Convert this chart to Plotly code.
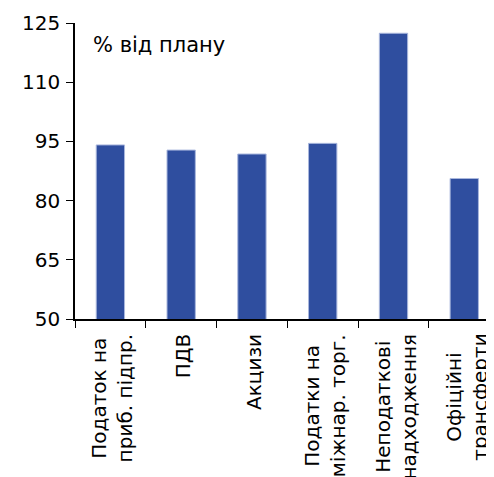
import plotly.graph_objects as go

categories = ["Податок на<br>приб. підпр.", "ПДВ", "Акцизи", "Податки на<br>міжнар. торг.",
              "Неподаткові<br>надходження", "Офіційні<br>трансферти"]
values = [94.1, 92.8, 91.8, 94.5, 122.4, 85.6]
y_ticks = [50, 65, 80, 95, 110, 125]

fig = go.Figure(go.Bar(
    x=list(range(len(categories))), y=values,
    marker=dict(color="#2F4E9F", line=dict(color="#A9B7DD", width=1)),
    width=0.4,
))

annotations = [dict(text="% від плану", xref="x", yref="y", x=-0.28, y=119.4,
                    xanchor="left", showarrow=False, font=dict(size=21))]
for i, c in enumerate(categories):
    annotations.append(dict(
        text=c, xref="x", yref="paper", x=i, y=0, yshift=-13, xshift=2,
        xanchor="center", yanchor="top", textangle=-90, align="center",
        showarrow=False, font=dict(size=20),
    ))

fig.update_layout(
    width=486, height=469,
    margin=dict(l=67, r=0, t=15, b=158),
    paper_bgcolor="white", plot_bgcolor="white",
    font=dict(family="DejaVu Sans", size=20, color="black"),
    showlegend=False,
    xaxis=dict(
        range=[-0.5, 5.42],
        automargin=False,
        tickmode="array",
        tickvals=list(range(len(categories))),
        showticklabels=False,
        showline=True, linecolor="black", linewidth=1.5,
        ticks="", showgrid=False, zeroline=False,
        minor=dict(tickmode="array", tickvals=[i - 0.5 for i in range(7)],
                   ticks="outside", ticklen=7, tickcolor="black", tickwidth=1),
    ),
    yaxis=dict(
        range=[50, 125],
        automargin=False,
        tickvals=y_ticks,
        showline=True, linecolor="black", linewidth=1.5,
        ticks="outside", ticklen=7, tickcolor="black",
        showgrid=False, zeroline=False,
        tickfont=dict(size=20),
        ticklabelstandoff=2,
    ),
    annotations=annotations,
)

fig.write_html("out.html")
